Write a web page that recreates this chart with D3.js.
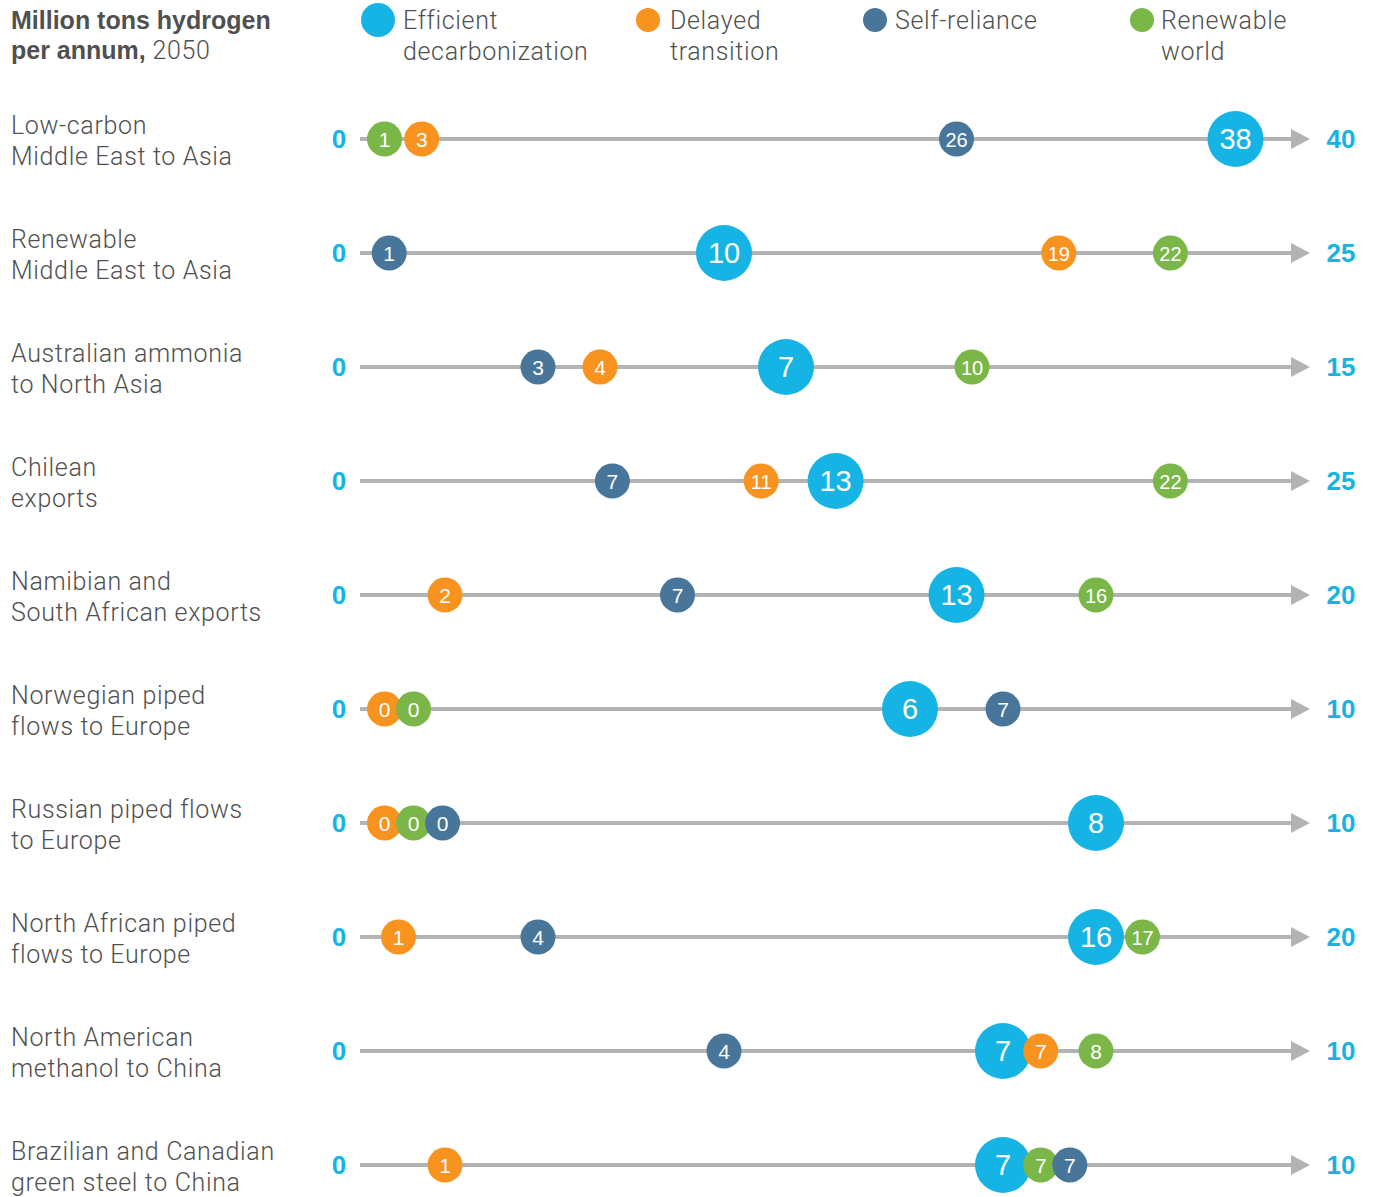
<!DOCTYPE html>
<html>
<head>
<meta charset="utf-8">
<script src="https://cdn.jsdelivr.net/npm/d3@7"></script>
<style>
  html, body { margin: 0; padding: 0; background: #fff; }
  svg { display: block; }
  text { font-family: Roboto, "Liberation Sans", sans-serif; }
  .light { font-weight: 300; letter-spacing: 0.65px; }
  .heavy { font-family: "Liberation Sans", Arial, sans-serif; font-weight: 700; }
</style>
</head>
<body>
<div id="chart"></div>
<script>
// Hydrogen trade flows in 2050, million tons per annum, by scenario
const routes = [
  ["Low-carbon", "Middle East to Asia"],
  ["Renewable", "Middle East to Asia"],
  ["Australian ammonia", "to North Asia"],
  ["Chilean", "exports"],
  ["Namibian and", "South African exports"],
  ["Norwegian piped", "flows to Europe"],
  ["Russian piped flows", "to Europe"],
  ["North African piped", "flows to Europe"],
  ["North American", "methanol to China"],
  ["Brazilian and Canadian", "green steel to China"]
];
const axisMax = [40, 25, 15, 25, 20, 10, 10, 20, 10, 10];

const scenarios = ["Efficient decarbonization", "Delayed transition", "Self-reliance", "Renewable world"];
const efficient = [38, 10, 7, 13, 13, 6, 8, 16, 7, 7];
const delayed   = [3, 19, 4, 11, 2, 0, 0, 1, 7, 1];
const selfReliance = [26, 1, 3, 7, 7, 7, 0, 4, 4, 7];
const renewable = [1, 22, 10, 22, 16, 0, 0, 17, 8, 7];

const seriesValues = [efficient, delayed, selfReliance, renewable];
const colors = ["#16b4e4", "#f7931e", "#48769a", "#7ab648"];
const radius = [28, 17.5, 17.5, 17.5];
const tieOrder = [0, 1, 3, 2]; // which circle goes first when values coincide

const W = 1382, H = 1197;
const svg = d3.select("#chart").append("svg").attr("width", W).attr("height", H);

const textColor = "#505050";
const lineStart = 360, lineEnd = 1293, arrowTip = 1310;

// Heading
const head = svg.append("g").attr("fill", textColor).style("font-size", "25px");
head.append("text").attr("class", "heavy").attr("x", 11).attr("y", 29).text("Million tons hydrogen");
const h2 = head.append("text").attr("x", 11).attr("y", 59);
h2.append("tspan").attr("class", "heavy").text("per annum,");
h2.append("tspan").attr("class", "light").text(" 2050");

// Legend
const legendItems = [
  { x: 378, r: 17, lines: ["Efficient", "decarbonization"], tx: 403 },
  { x: 648, r: 12, lines: ["Delayed", "transition"], tx: 670 },
  { x: 875, r: 12, lines: ["Self-reliance"], tx: 895 },
  { x: 1142, r: 12, lines: ["Renewable", "world"], tx: 1161 }
];
const lg = svg.append("g");
legendItems.forEach((d, i) => {
  lg.append("circle").attr("cx", d.x).attr("cy", 20).attr("r", d.r).attr("fill", colors[i]);
  const t = lg.append("text").attr("class", "light").attr("x", d.tx).attr("y", 29)
    .attr("fill", textColor).style("font-size", "25px");
  d.lines.forEach((l, j) => t.append("tspan").attr("x", d.tx).attr("dy", j ? 31 : 0).text(l));
});

// Rows
const y = d3.scalePoint().domain(d3.range(routes.length)).range([139, 1165]);

routes.forEach((route, i) => {
  const cy = y(i);
  const x = d3.scaleLinear().domain([0, axisMax[i]]).range([352, 1282]);
  const g = svg.append("g");

  const lbl = g.append("text").attr("class", "light").attr("x", 11).attr("y", cy - 5)
    .attr("fill", textColor).style("font-size", "25px");
  route.forEach((l, j) => lbl.append("tspan").attr("x", 11).attr("dy", j ? 31 : 0).text(l));

  g.append("line").attr("x1", lineStart).attr("x2", lineEnd).attr("y1", cy).attr("y2", cy)
    .attr("stroke", "#b3b3b3").attr("stroke-width", 4);
  g.append("path")
    .attr("d", `M${lineEnd - 2},${cy - 10}L${arrowTip},${cy}L${lineEnd - 2},${cy + 10}Z`)
    .attr("fill", "#b3b3b3");

  g.append("text").attr("class", "heavy").attr("x", 339).attr("y", cy + 9).attr("text-anchor", "middle")
    .attr("fill", colors[0]).style("font-size", "26px")
    .text(x.domain()[0]);
  g.append("text").attr("class", "heavy").attr("x", 1341).attr("y", cy + 9).attr("text-anchor", "middle")
    .attr("fill", colors[0]).style("font-size", "26px")
    .text(x.domain()[1]);

  // place circles along the axis, nudging coincident ones apart
  const items = seriesValues.map((vals, s) => ({ s, v: vals[i], r: radius[s], cx: x(vals[i]) }))
    .sort((a, b) => a.v - b.v || tieOrder.indexOf(a.s) - tieOrder.indexOf(b.s));
  items.forEach((d, k) => {
    const minX = k === 0 ? lineStart + d.r + 7 : items[k - 1].cx + (items[k - 1].r + d.r) * 0.83;
    d.cx = Math.max(d.cx, minX);
  });

  const dots = g.selectAll("g.dot").data(items).join("g").attr("class", "dot")
    .attr("transform", d => `translate(${d.cx},${cy})`);
  dots.append("circle").attr("r", d => d.r).attr("fill", d => colors[d.s]);
  dots.append("text").attr("text-anchor", "middle")
    .attr("y", d => d.r > 20 ? 10 : 7.5)
    .attr("fill", "#fff")
    .style("font-family", "'Liberation Sans', Arial, sans-serif")
    .style("font-size", d => d.r > 20 ? "29px" : (d.v >= 10 ? "20px" : "21px"))
    .text(d => d.v);
});
</script>
</body>
</html>
